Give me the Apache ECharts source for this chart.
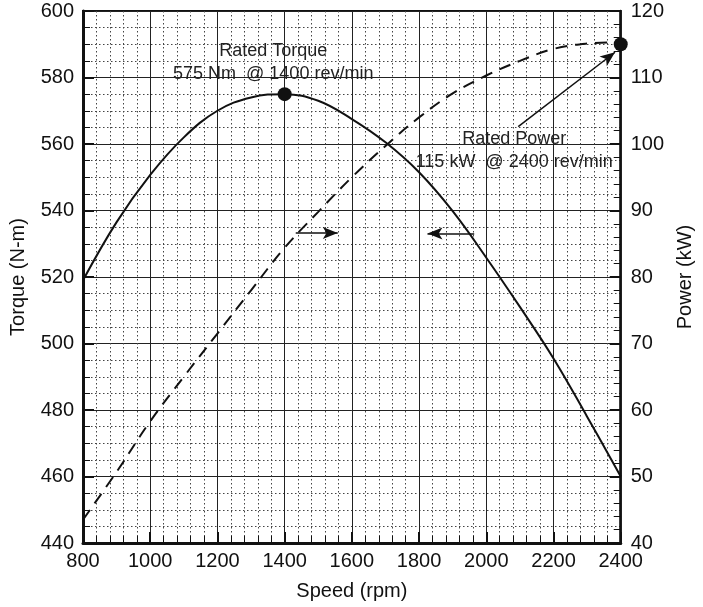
<!DOCTYPE html>
<html>
<head>
<meta charset="utf-8">
<script src="https://cdn.jsdelivr.net/npm/echarts@6/dist/echarts.min.js"></script>
<style>
html,body{margin:0;padding:0;background:#fff;}
#c{width:703px;height:607px;}
</style>
</head>
<body>
<div id="c"></div>
<script>
// ---- data ----
const speed  = [800, 900, 1000, 1100, 1200, 1300, 1400, 1500, 1600, 1700, 1800, 1900, 2000, 2100, 2200, 2300, 2400];
const torque = [519, 536.5, 550.7, 562, 570, 574, 575, 573, 567.5, 560.5, 551.5, 539.8, 525.8, 511, 495.5, 478, 460];
const power  = [43.5, 50.7, 58.3, 65.0, 71.5, 78.0, 84.4, 89.8, 95.0, 99.7, 104.0, 107.6, 110.3, 112.5, 114.3, 115.1, 115.3];

const ratedTorquePoint = [1400, 575];
const ratedPowerPoint  = [2400, 115];

const ratedTorqueText = ['Rated Torque', '575 Nm  @ 1400 rev/min'];
const ratedTorqueTextAt = [1366, 584.6];
const ratedPowerText  = ['Rated Power', '115 kW  @ 2400 rev/min'];
const ratedPowerTextAt = [2083, 99];

const ratedPowerArrow = [[2095, 102.6], [2383, 113.8]];
const powerAxisArrow  = [[1433, 86.6], [1558, 86.6]];
const torqueAxisArrow = [[1964, 533.1], [1825, 533.1]];

const xTicks = {min: 800, max: 2400, step: 200};
const yTorqueTicks = {min: 440, max: 600, step: 20};
const yPowerTicks = {min: 40, max: 120, step: 10};

const FONT = '"Liberation Sans", Arial, Helvetica, sans-serif';
const INK = '#111';

const chart = echarts.init(document.getElementById('c'), null, {renderer: 'canvas'});

const minorDotted = {color: '#444', width: 1, type: [1.5, 2.5]};
const majorSolid = {color: '#222', width: 1};
const plain = v => String(v);

const option = {
  animation: false,
  backgroundColor: '#fff',
  grid: {left: 82, right: 70, top: 11, bottom: 64, show: true, borderColor: INK, borderWidth: 2},
  xAxis: {
    type: 'value', min: xTicks.min, max: xTicks.max, interval: xTicks.step,
    name: 'Speed (rpm)', nameLocation: 'middle', nameGap: 38,
    nameTextStyle: {fontFamily: FONT, fontSize: 20, color: INK},
    axisLine: {show: true, onZero: false, lineStyle: {color: INK, width: 3}},
    axisTick: {show: true, inside: true, length: 11, lineStyle: {color: INK, width: 2}},
    minorTick: {show: true, splitNumber: 5, length: 7, lineStyle: {color: INK, width: 1}},
    axisLabel: {fontFamily: FONT, fontSize: 20, color: INK, margin: 8, formatter: plain},
    splitLine: {show: true, lineStyle: majorSolid},
    minorSplitLine: {show: true, lineStyle: minorDotted}
  },
  yAxis: [{
    type: 'value', min: yTorqueTicks.min, max: yTorqueTicks.max, interval: yTorqueTicks.step,
    position: 'left',
    name: 'Torque (N-m)', nameLocation: 'middle', nameGap: 55, nameRotate: 90,
    nameTextStyle: {fontFamily: FONT, fontSize: 20, color: INK},
    axisLine: {show: true, onZero: false, lineStyle: {color: INK, width: 3}},
    axisTick: {show: true, inside: true, length: 11, lineStyle: {color: INK, width: 2}},
    minorTick: {show: true, splitNumber: 4, length: 7, lineStyle: {color: INK, width: 1}},
    axisLabel: {fontFamily: FONT, fontSize: 20, color: INK, margin: 9, formatter: plain},
    splitLine: {show: true, lineStyle: majorSolid},
    minorSplitLine: {show: true, lineStyle: minorDotted}
  }, {
    type: 'value', min: yPowerTicks.min, max: yPowerTicks.max, interval: yPowerTicks.step,
    position: 'right',
    name: 'Power (kW)', nameLocation: 'middle', nameGap: 53, nameRotate: 90,
    nameTextStyle: {fontFamily: FONT, fontSize: 20, color: INK},
    axisLine: {show: true, onZero: false, lineStyle: {color: INK, width: 2.5}},
    axisTick: {show: true, inside: true, length: 11, lineStyle: {color: INK, width: 2}},
    minorTick: {show: true, splitNumber: 5, length: 7, lineStyle: {color: INK, width: 1}},
    axisLabel: {fontFamily: FONT, fontSize: 20, color: INK, margin: 10, formatter: plain},
    splitLine: {show: false},
    minorSplitLine: {show: false}
  }],
  series: [{
    name: 'Torque', type: 'line', xAxisIndex: 0, yAxisIndex: 0,
    data: speed.map((s, i) => [s, torque[i]]),
    smooth: 0.4, showSymbol: false, symbol: 'none',
    lineStyle: {color: INK, width: 2},
    z: 5,
    markLine: {
      silent: true, symbol: ['none', 'arrow'], symbolSize: [9, 15],
      lineStyle: {color: INK, width: 1.5, type: 'solid'},
      label: {show: false},
      data: [[{coord: torqueAxisArrow[0]}, {coord: torqueAxisArrow[1]}]]
    },
    markPoint: {
      silent: true, symbol: 'circle', symbolSize: 1,
      itemStyle: {color: 'rgba(0,0,0,0)'},
      label: {show: true, position: 'inside', fontFamily: FONT, fontSize: 18, color: '#222', lineHeight: 23, align: 'center', verticalAlign: 'middle'},
      data: [{coord: ratedTorqueTextAt, label: {formatter: ratedTorqueText.join('\n')}}]
    }
  }, {
    name: 'Power', type: 'line', xAxisIndex: 0, yAxisIndex: 1,
    data: speed.map((s, i) => [s, power[i]]),
    smooth: 0.4, showSymbol: false, symbol: 'none',
    lineStyle: {color: INK, width: 2, type: [12, 8]},
    z: 5,
    markLine: {
      silent: true, symbol: ['none', 'arrow'], symbolSize: [9, 15],
      lineStyle: {color: INK, width: 1.5, type: 'solid'},
      label: {show: false},
      data: [
        [{coord: ratedPowerArrow[0]}, {coord: ratedPowerArrow[1]}],
        [{coord: powerAxisArrow[0]}, {coord: powerAxisArrow[1]}]
      ]
    },
    markPoint: {
      silent: true, symbol: 'circle', symbolSize: 1,
      itemStyle: {color: 'rgba(0,0,0,0)'},
      label: {show: true, position: 'inside', fontFamily: FONT, fontSize: 18, color: '#222', lineHeight: 23, align: 'center', verticalAlign: 'middle'},
      data: [{coord: ratedPowerTextAt, label: {formatter: ratedPowerText.join('\n')}}]
    }
  }, {
    name: 'Rated torque', type: 'scatter', xAxisIndex: 0, yAxisIndex: 0,
    data: [ratedTorquePoint], symbol: 'circle', symbolSize: 14, clip: false,
    itemStyle: {color: INK, opacity: 1}, z: 10
  }, {
    name: 'Rated power', type: 'scatter', xAxisIndex: 0, yAxisIndex: 1,
    data: [ratedPowerPoint], symbol: 'circle', symbolSize: 14, clip: false,
    itemStyle: {color: INK, opacity: 1}, z: 10
  }]
};
chart.setOption(option);
</script>
</body>
</html>
